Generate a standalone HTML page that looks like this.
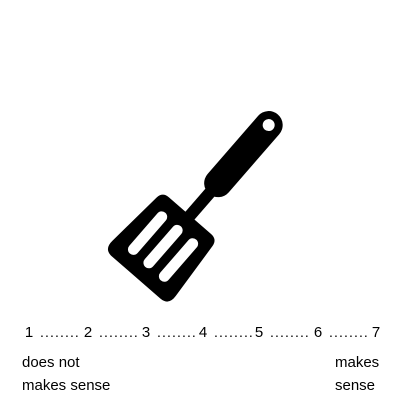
<!DOCTYPE html>
<html><head><style>
body{margin:0;width:400px;height:400px;background:#fff;position:relative;overflow:hidden;font-family:"Liberation Sans",sans-serif;color:#000}
.t{position:absolute;font-size:15px;white-space:nowrap}
.n{position:absolute;top:324px;font-size:15px;transform:translateX(-50%)}
.d{position:absolute;top:324px;font-size:14px;letter-spacing:1.1px}
</style></head><body>
<svg width="400" height="400" style="position:absolute;left:0;top:0">
<g transform="translate(207,196) rotate(41)">
<rect x="-14" y="-108" width="28" height="105" rx="14" fill="#000"/>
<circle cx="0" cy="-94" r="6" fill="#fff"/>
<rect x="-6" y="-10" width="12" height="42" fill="#000"/>
<path d="M-28,26 L28,26 Q36,26 37,34 L42,96 Q43,108 32,108 L-32,108 Q-43,108 -42,96 L-37,34 Q-36,26 -28,26 Z" fill="#000"/>
<rect x="-26" y="40" width="11" height="54" rx="5.5" fill="#fff"/>
<rect x="-5.5" y="40" width="11" height="54" rx="5.5" fill="#fff"/>
<rect x="15" y="40" width="11" height="54" rx="5.5" fill="#fff"/>
</g>
</svg>
<div>
<span class="n" style="left:29px">1</span>
<span class="d" style="left:40px">........</span>
<span class="n" style="left:88px">2</span>
<span class="d" style="left:99px">........</span>
<span class="n" style="left:146px">3</span>
<span class="d" style="left:157px">........</span>
<span class="n" style="left:203px">4</span>
<span class="d" style="left:214px">........</span>
<span class="n" style="left:259px">5</span>
<span class="d" style="left:270px">........</span>
<span class="n" style="left:318px">6</span>
<span class="d" style="left:329px">........</span>
<span class="n" style="left:376px">7</span>
</div>
<div class="t" style="left:22px;top:351px;line-height:23px">does not<br>makes sense</div>
<div class="t" style="left:335px;top:351px;line-height:23px">makes<br>sense</div>
</body></html>
